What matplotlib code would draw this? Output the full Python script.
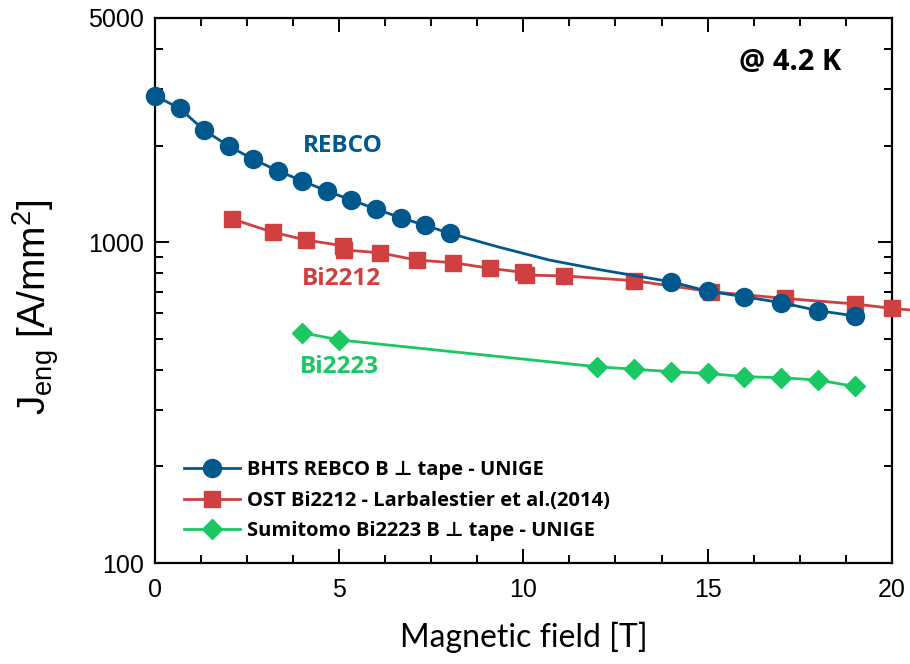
import matplotlib
matplotlib.use("Agg")
import matplotlib.pyplot as plt
from matplotlib.ticker import FixedLocator, MultipleLocator, LogLocator, NullFormatter, FixedFormatter

plt.rcParams["mathtext.fontset"] = "custom"
plt.rcParams["mathtext.rm"] = "Liberation Sans"
plt.rcParams["mathtext.it"] = "Liberation Sans:italic"
plt.rcParams["mathtext.bf"] = "Liberation Sans:bold"

# Engineering current density at 4.2 K versus applied field
rebco_field = [0, 0.67, 1.33, 2.0, 2.67, 3.33, 4.0, 4.67, 5.33, 6.0, 6.67, 7.33, 8.0,
               9.3, 10.7, 12.1, 14, 15, 16, 17, 18, 19]
rebco_jeng = [2860, 2615, 2237, 1994, 1813, 1671, 1552, 1444, 1354, 1269, 1192, 1129, 1066,
              968, 880, 820, 753, 704, 676, 648, 612, 589]
rebco_marked = [0, 1, 2, 3, 4, 5, 6, 7, 8, 9, 10, 11, 12, 16, 17, 18, 19, 20, 21]

bi2212_field = [2.1, 3.2, 4.1, 5.1, 5.13, 6.1, 7.1, 8.1, 9.1, 10.0, 10.08, 11.1, 13.0,
                15.1, 17.1, 19.0, 20.0, 20.5]
bi2212_jeng = [1181, 1074, 1016, 975, 946, 927, 880, 863, 829, 805, 790, 785, 759,
               701, 668, 642, 622, 615]
bi2212_marked = list(range(17))

bi2223_field = [4, 5, 12, 13, 14, 15, 16, 17, 18, 19]
bi2223_jeng = [522, 496, 409, 402, 395, 390, 381, 378, 372, 355]

series_labels = ["BHTS REBCO B \u22a5 tape - UNIGE",
                 "OST Bi2212 - Larbalestier et al.(2014)",
                 "Sumitomo Bi2223 B \u22a5 tape - UNIGE"]

x_ticks = [0, 5, 10, 15, 20]
y_ticks = [100, 1000, 5000]

blue = "#00588C"
red = "#D04040"
green = "#19C862"

TICK_FONT = "Liberation Sans"
TEXT_FONT = ["Open Sans", "DejaVu Sans"]
AXLABEL_FONT = ["Lato", "DejaVu Sans"]

fig = plt.figure(figsize=(9.10, 6.64), dpi=100)
ax = fig.add_axes([0.1703, 0.1521, 0.8097, 0.8208])

h_red, = ax.plot(bi2212_field, bi2212_jeng, color=red, lw=2, marker="s", ms=11,
                 markevery=bi2212_marked, clip_on=False, zorder=3)
h_green, = ax.plot(bi2223_field, bi2223_jeng, color=green, lw=2, marker="D", ms=10,
                   clip_on=False, zorder=3)
h_blue, = ax.plot(rebco_field, rebco_jeng, color=blue, lw=2, marker="o", ms=13,
                  markevery=rebco_marked, clip_on=False, zorder=4)

ax.set_yscale("log")
ax.set_xlim(0, 20)
ax.set_ylim(100, 5000)

ax.xaxis.set_major_locator(FixedLocator(x_ticks))
ax.xaxis.set_minor_locator(MultipleLocator(1.25))
ax.yaxis.set_major_locator(FixedLocator(y_ticks))
ax.yaxis.set_major_formatter(FixedFormatter([str(v) for v in y_ticks]))
ax.yaxis.set_minor_locator(LogLocator(base=10, subs=range(2, 10)))
ax.yaxis.set_minor_formatter(NullFormatter())

for s in ax.spines.values():
    s.set_linewidth(1.6)
ax.tick_params(which="both", direction="in", top=True, right=True, width=1.4)
ax.tick_params(which="major", length=10)
ax.tick_params(which="minor", length=6)
ax.tick_params(axis="x", which="major", pad=11)
ax.tick_params(axis="y", which="major", pad=8)
for lab in ax.get_xticklabels() + ax.get_yticklabels():
    lab.set_fontfamily(TICK_FONT)
    lab.set_fontsize(18)

ax.set_xlabel("Magnetic field [T]", family=AXLABEL_FONT, fontsize=23, labelpad=14)
ax.set_ylabel(r"J$_{\mathrm{eng}}$ [A/mm$^{2}$]", family=TICK_FONT, fontsize=28)
ax.yaxis.set_label_coords(-0.128, 0.47)

ax.text(0.255, 0.765, "REBCO", transform=ax.transAxes, color=blue, family=TEXT_FONT,
        fontsize=17.5, fontweight="bold", ha="center", va="center")
ax.text(0.253, 0.521, "Bi2212", transform=ax.transAxes, color=red, family=TEXT_FONT,
        fontsize=17.5, fontweight="bold", ha="center", va="center")
ax.text(0.25, 0.36, "Bi2223", transform=ax.transAxes, color=green, family=TEXT_FONT,
        fontsize=17.5, fontweight="bold", ha="center", va="center")
ax.text(0.862, 0.919, "@ 4.2 K", transform=ax.transAxes, color="black", family=TEXT_FONT,
        fontsize=21, fontweight="bold", ha="center", va="center")

leg = ax.legend([h_blue, h_red, h_green], series_labels, loc="lower left",
                bbox_to_anchor=(0.039, 0.04), frameon=False, borderaxespad=0,
                borderpad=0, handlelength=2.8, handletextpad=0.35, labelspacing=0.52,
                prop={"family": TEXT_FONT, "weight": "bold", "size": 14.5})

fig.savefig("out.png", dpi=100)
